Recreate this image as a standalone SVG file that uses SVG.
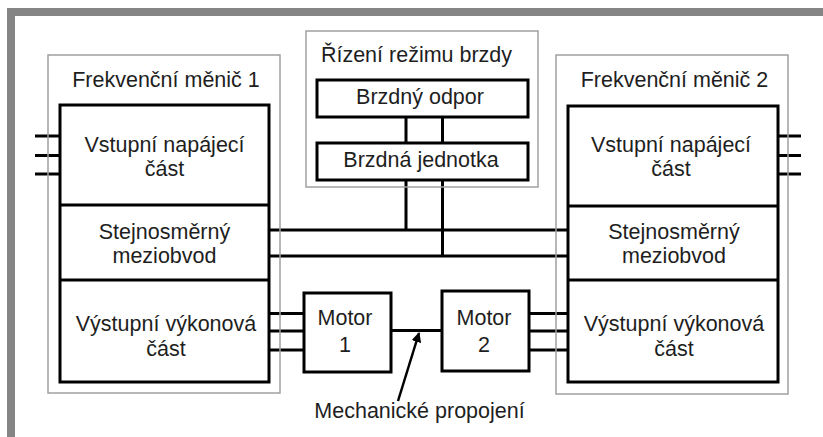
<svg xmlns="http://www.w3.org/2000/svg" width="823" height="437" viewBox="0 0 823 437">
<style>
text{font-family:"Liberation Sans",Arial,sans-serif;font-size:21.5px;fill:#1e1e1e;text-anchor:middle}
.frame{fill:none;stroke:#a0a0a0;stroke-width:1.5}
.blk{fill:#fff;stroke:#000;stroke-width:3}
.ln{stroke:#000;stroke-width:3;fill:none}
</style>
<defs>
<marker id="ah" viewBox="0 0 10 10" refX="9" refY="5" markerWidth="4" markerHeight="4" orient="auto" markerUnits="strokeWidth">
<path d="M0,0 L10,5 L0,10 z" fill="#000"/>
</marker>
</defs>
<rect x="0" y="0" width="823" height="437" fill="#fff"/>
<rect id="outer" x="11" y="12" width="830" height="429" fill="none" stroke="#858585" stroke-width="8"/>

<g id="connectors">
<path class="ln" d="M35,136H60M35,155.5H60M35,174H60"/>
<path class="ln" d="M778,136H801M778,155.5H801M778,174H801"/>
<path class="ln" d="M269,230H568M269,256H568"/>
<path class="ln" d="M406,117V143M442.5,117V143"/>
<path class="ln" d="M406,180V230M442.5,180V256"/>
<path class="ln" d="M269,313.5H304M269,331H304M269,350H304"/>
<path class="ln" d="M529,313.5H568M529,331H568M529,350H568"/>
<path class="ln" d="M391,330.5H442"/>
<line x1="398" y1="401" x2="419" y2="333" stroke="#000" stroke-width="2.5" marker-end="url(#ah)"/>
</g>

<g id="fm1">
<rect class="frame" x="48" y="55" width="232" height="338"/>
<text x="166" y="87">Frekvenční měnič 1</text>
<rect class="blk" x="60" y="105" width="209" height="277"/>
<path class="ln" d="M60,205H269M60,280H269"/>
<g id="fm1-vstup"><text x="164.5" y="151.5">Vstupní napájecí</text><text x="164.5" y="175.5">část</text></g>
<g id="fm1-dc"><text x="164.5" y="238.5">Stejnosměrný</text><text x="164.5" y="263">meziobvod</text></g>
<g id="fm1-vystup"><text x="166" y="330.5">Výstupní výkonová</text><text x="166" y="356">část</text></g>
</g>

<g id="fm2">
<rect class="frame" x="556" y="55" width="232" height="339"/>
<text x="674.5" y="87">Frekvenční měnič 2</text>
<rect class="blk" x="568" y="106" width="210" height="276"/>
<path class="ln" d="M568,206H778M568,280H778"/>
<g id="fm2-vstup"><text x="671" y="151.5">Vstupní napájecí</text><text x="671" y="175.5">část</text></g>
<g id="fm2-dc"><text x="674" y="238.5">Stejnosměrný</text><text x="674" y="263">meziobvod</text></g>
<g id="fm2-vystup"><text x="674" y="330.5">Výstupní výkonová</text><text x="674" y="356">část</text></g>
</g>

<g id="brzda">
<rect class="frame" x="306" y="31" width="232" height="156"/>
<text x="416.5" y="62">Řízení režimu brzdy</text>
<g id="odpor"><rect class="blk" x="317" y="80" width="211" height="37"/><text x="420" y="104">Brzdný odpor</text></g>
<g id="jednotka"><rect class="blk" x="317" y="143" width="211" height="37"/><text x="421" y="167">Brzdná jednotka</text></g>
</g>

<g id="motor1">
<rect class="blk" x="304" y="293" width="87" height="79"/>
<text x="345" y="325">Motor</text><text x="345" y="351.5">1</text>
</g>
<g id="motor2">
<rect class="blk" x="442" y="291" width="87" height="80"/>
<text x="484" y="325">Motor</text><text x="484" y="351.5">2</text>
</g>

<g id="label-mech">
<text x="419.5" y="418">Mechanické propojení</text>
</g>
</svg>
